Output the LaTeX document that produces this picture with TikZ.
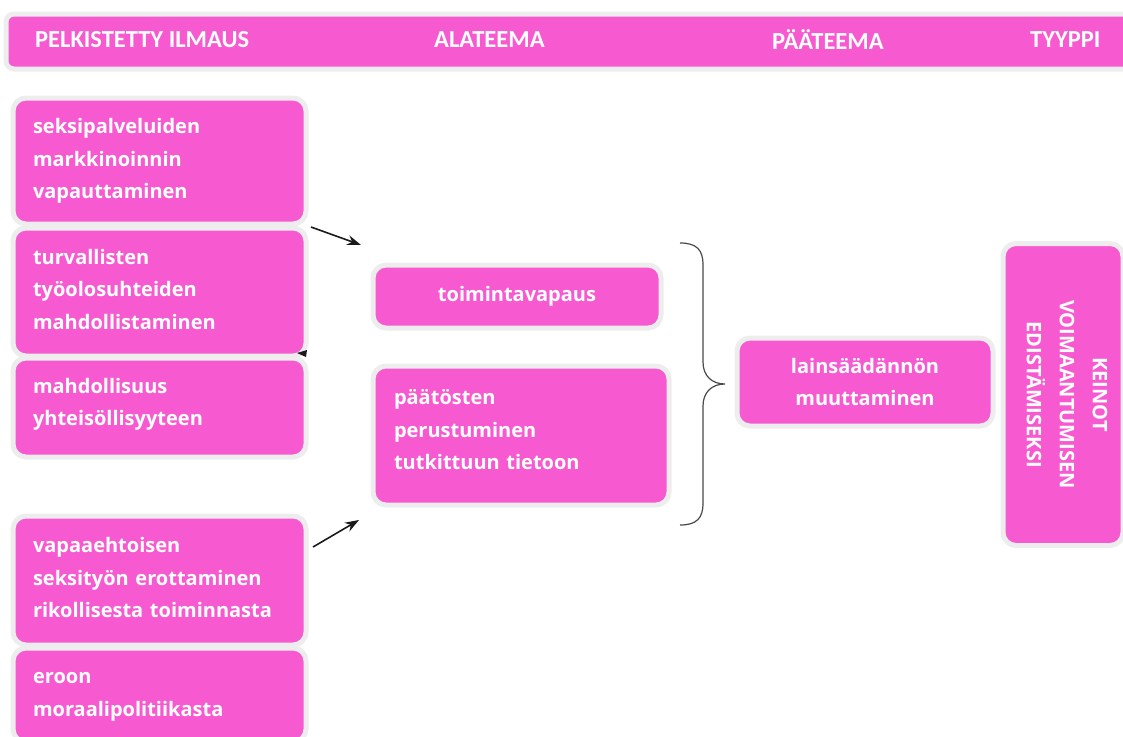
\documentclass[tikz,border=0pt]{standalone}
\usepackage{fontspec}
\setmainfont{Open Sans}
\newfontfamily\headfont{Carlito}
\usetikzlibrary{arrows.meta}
\definecolor{pk}{HTML}{F75AD0}
\definecolor{bd}{HTML}{EDEDED}
\definecolor{ln}{HTML}{1A1A1A}
\begin{document}
\begin{tikzpicture}[x=1pt,y=-1pt,
  box/.style={draw=bd, line width=5pt, fill=pk, rounded corners=13pt, text=white,
    font=\bfseries\fontsize{20}{32.5}\selectfont, inner ysep=0pt},
  lbox/.style={box, anchor=north west, align=left, inner xsep=20pt},
  hd/.style={text=white, font=\headfont\bfseries\fontsize{24.5}{26}\selectfont, inner sep=0pt},
  arr/.style={draw=ln, -{Stealth[length=14pt,width=10pt]}, line width=1.6pt},
  brace/.style={draw=ln!80, line width=1.2pt}]
\useasboundingbox (0,0) rectangle (1123,736);
% header
\node[draw=bd, line width=5pt, fill=pk, rounded corners=8pt, anchor=north west,
  minimum width=1140pt, minimum height=55pt, inner sep=0pt] (hdr) at (3.5,11.5) {};
\node[hd, anchor=west] (h1) at (35,40) {PELKISTETTY ILMAUS};
\node[hd, anchor=west] (h2) at (434,40) {ALATEEMA};
\node[hd, anchor=west] (h3) at (772,40) {PÄÄTEEMA};
\node[hd, anchor=west] (h4) at (1030,40) {TYYPPI};
% left column
\node[lbox, text width=253pt, minimum height=126pt] (l1) at (10.5,95.5)
  {seksipalveluiden\\markkinoinnin\\vapauttaminen};
\node[lbox, text width=253pt, minimum height=128pt, text depth=71pt] (l2) at (10.5,225.5)
  {turvallisten\\työolosuhteiden\\mahdollistaminen};
\node[lbox, text width=253pt, minimum height=99pt, text depth=43.3pt] (l3) at (10.5,355.5)
  {mahdollisuus\\yhteisöllisyyteen};
\node[lbox, text width=253pt, minimum height=129pt, text depth=71pt] (l4) at (10.5,513.5)
  {vapaaehtoisen\\seksityön erottaminen\\rikollisesta toiminnasta};
\node[lbox, text width=253pt, minimum height=94pt, text depth=33.3pt] (l5) at (10.5,645.5)
  {eroon\\moraalipolitiikasta};
% middle column
\node[box, anchor=north west, minimum width=288pt, minimum height=63pt] (m1) at (370.5,262.5)
  {toimintavapaus};
\node[lbox, inner xsep=21pt, text width=254pt, minimum height=139pt, text depth=77pt] (m2) at (370.5,363.5)
  {päätösten\\perustuminen\\tutkittuun tietoon};
% main theme
\node[box, anchor=north west, align=center, minimum width=256pt, minimum height=88pt] (p1) at (734.5,335.5)
  {lainsäädännön\\muuttaminen};
% type
\node[box, rotate=-90, align=center, minimum width=302pt, minimum height=120pt, text depth=8pt,
  font=\bfseries\fontsize{20}{33}\selectfont] (t1) at (1063,394.5)
  {KEINOT\\VOIMAANTUMISEN\\EDISTÄMISEKSI};
% arrows
\coordinate (a1s) at (311,227); \coordinate (a1e) at (361,245);
\coordinate (a2s) at (313,547); \coordinate (a2e) at (359,520);
\draw[arr] (a1s) -- (a1e);
\draw[arr] (a2s) -- (a2e);
\coordinate (mk) at (297,353);
\fill[ln] (mk) -- ++(10,-3) -- ++(-1,7) -- cycle;
% brace
\coordinate (bt) at (680,243); \coordinate (bm) at (725,384); \coordinate (bb) at (680,525);
\draw[brace] (bt) .. controls (697,243) and (703,250) .. (703,265)
  -- (703,362) .. controls (703,376) and (712,384) .. (bm)
  (bm) .. controls (712,384) and (703,392) .. (703,406)
  -- (703,503) .. controls (703,518) and (697,525) .. (bb);
\end{tikzpicture}
\end{document}
